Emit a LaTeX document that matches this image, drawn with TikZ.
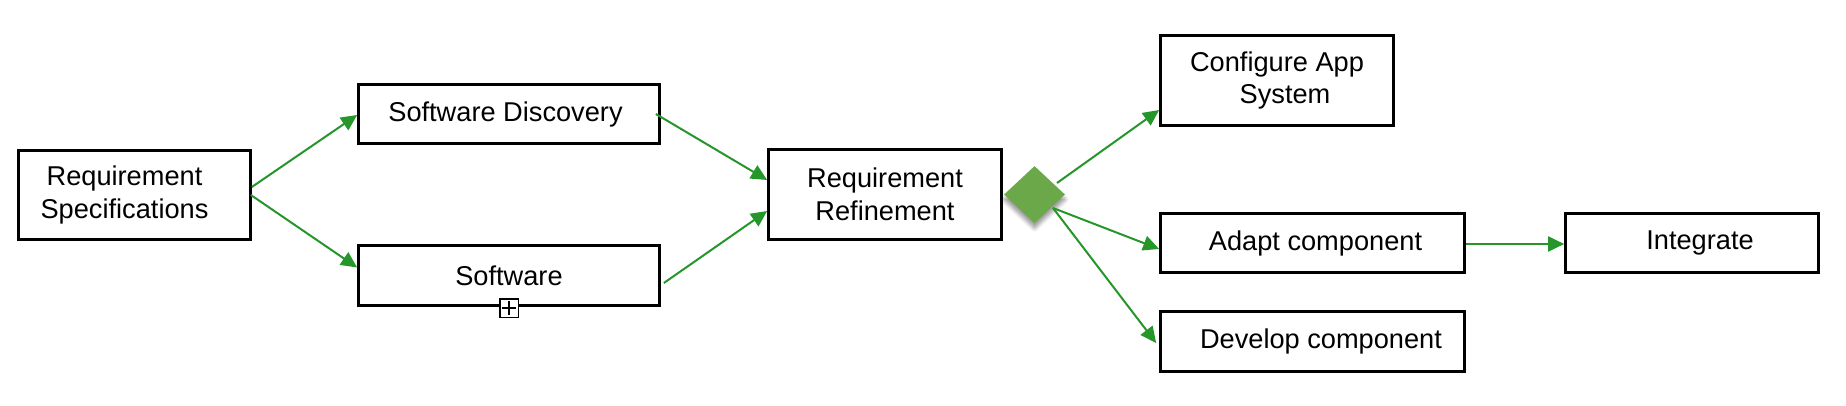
\documentclass[tikz,border=0pt]{standalone}
\usepackage{fontspec}
\setmainfont{Liberation Sans}
\usetikzlibrary{arrows.meta,calc,shapes.geometric,shadows.blur}
\definecolor{arrowgreen}{RGB}{38,150,42}
\definecolor{gwgreen}{RGB}{107,168,74}
\begin{document}
\begin{tikzpicture}[x=0.5pt,y=-0.5pt,
  box/.style={draw=black, line width=1.35pt, fill=white, inner sep=0pt, align=center,
    font=\fontsize{13.6pt}{16.3pt}\selectfont},
  flow/.style={draw=arrowgreen, line width=1pt, -{Triangle[length=8pt,width=7.5pt]}},
  gateway/.style={diamond, fill=gwgreen, draw=none, inner sep=0pt,
    minimum width=30.5pt, minimum height=28.5pt,
    blur shadow={shadow xshift=0pt, shadow yshift=-2.5pt, shadow blur steps=6, shadow opacity=45}},
  plusbox/.style={draw=black, line width=0.75pt, fill=white, inner sep=0pt, minimum size=9.25pt,
    path picture={
      \draw[line width=0.6pt] ([xshift=-3.4pt]path picture bounding box.center) -- ([xshift=3.4pt]path picture bounding box.center);
      \draw[line width=0.6pt] ([yshift=-3.4pt]path picture bounding box.center) -- ([yshift=3.4pt]path picture bounding box.center);}}
]
\useasboundingbox (0,0) rectangle (1846,406);

\node[box, minimum width=116pt, minimum height=44.5pt] (rs) at (134.5,195) {\hspace*{-10pt}Requirement\\\hspace*{-10pt}Specifications};
\node[box, minimum width=150.5pt, minimum height=29.5pt] (sd) at (509,114) {\hspace*{-3.5pt}Software Discovery};
\node[box, minimum width=150.5pt, minimum height=30pt] (sw) at (509,275.5) {Software};
\node[plusbox] (plus) at (509,308) {};
\node[box, minimum width=116.5pt, minimum height=45pt] (rr) at (885,194.5) {Requirement\\Refinement};
\node[gateway] (gw) at (1034.5,194.5) {};
\node[box, minimum width=116.5pt, minimum height=45pt] (cfg) at (1277,80.5) {Configure App\\\hspace*{8pt}System};
\node[box, minimum width=152pt, minimum height=29.5pt] (ad) at (1312.5,243) {\hspace*{3pt}Adapt component};
\node[box, minimum width=152pt, minimum height=30pt] (dv) at (1312.5,341.5) {\hspace*{8.5pt}Develop component};
\node[box, minimum width=126.5pt, minimum height=29.5pt] (ig) at (1692,243) {\hspace*{8pt}Integrate};

\draw[flow] ($(rs.east)+(0,-8)$) -- ($(sd.west)+(0,1)$);
\draw[flow] ($(rs.east)+(-1,0)$) -- ($(sw.west)+(0,-8)$);
\draw[flow] ($(sd.east)+(-5,0)$) -- ($(rr.west)+(0,-14.5)$);
\draw[flow] ($(sw.east)+(3,7.5)$) -- ($(rr.west)+(0,16.5)$);
\draw[flow] ($(gw.center)+(22.5,-11.5)$) -- ($(cfg.west)+(0,29.5)$);
\draw[flow] ($(gw.center)+(18.5,13.5)$) -- ($(ad.west)+(0,6)$);
\draw[flow] ($(gw.center)+(18.5,13.5)$) -- ($(dv.west)+(-3,1.5)$);
\draw[flow] ($(ad.east)+(0,1)$) -- ($(ig.west)+(0,1)$);
\end{tikzpicture}
\end{document}
